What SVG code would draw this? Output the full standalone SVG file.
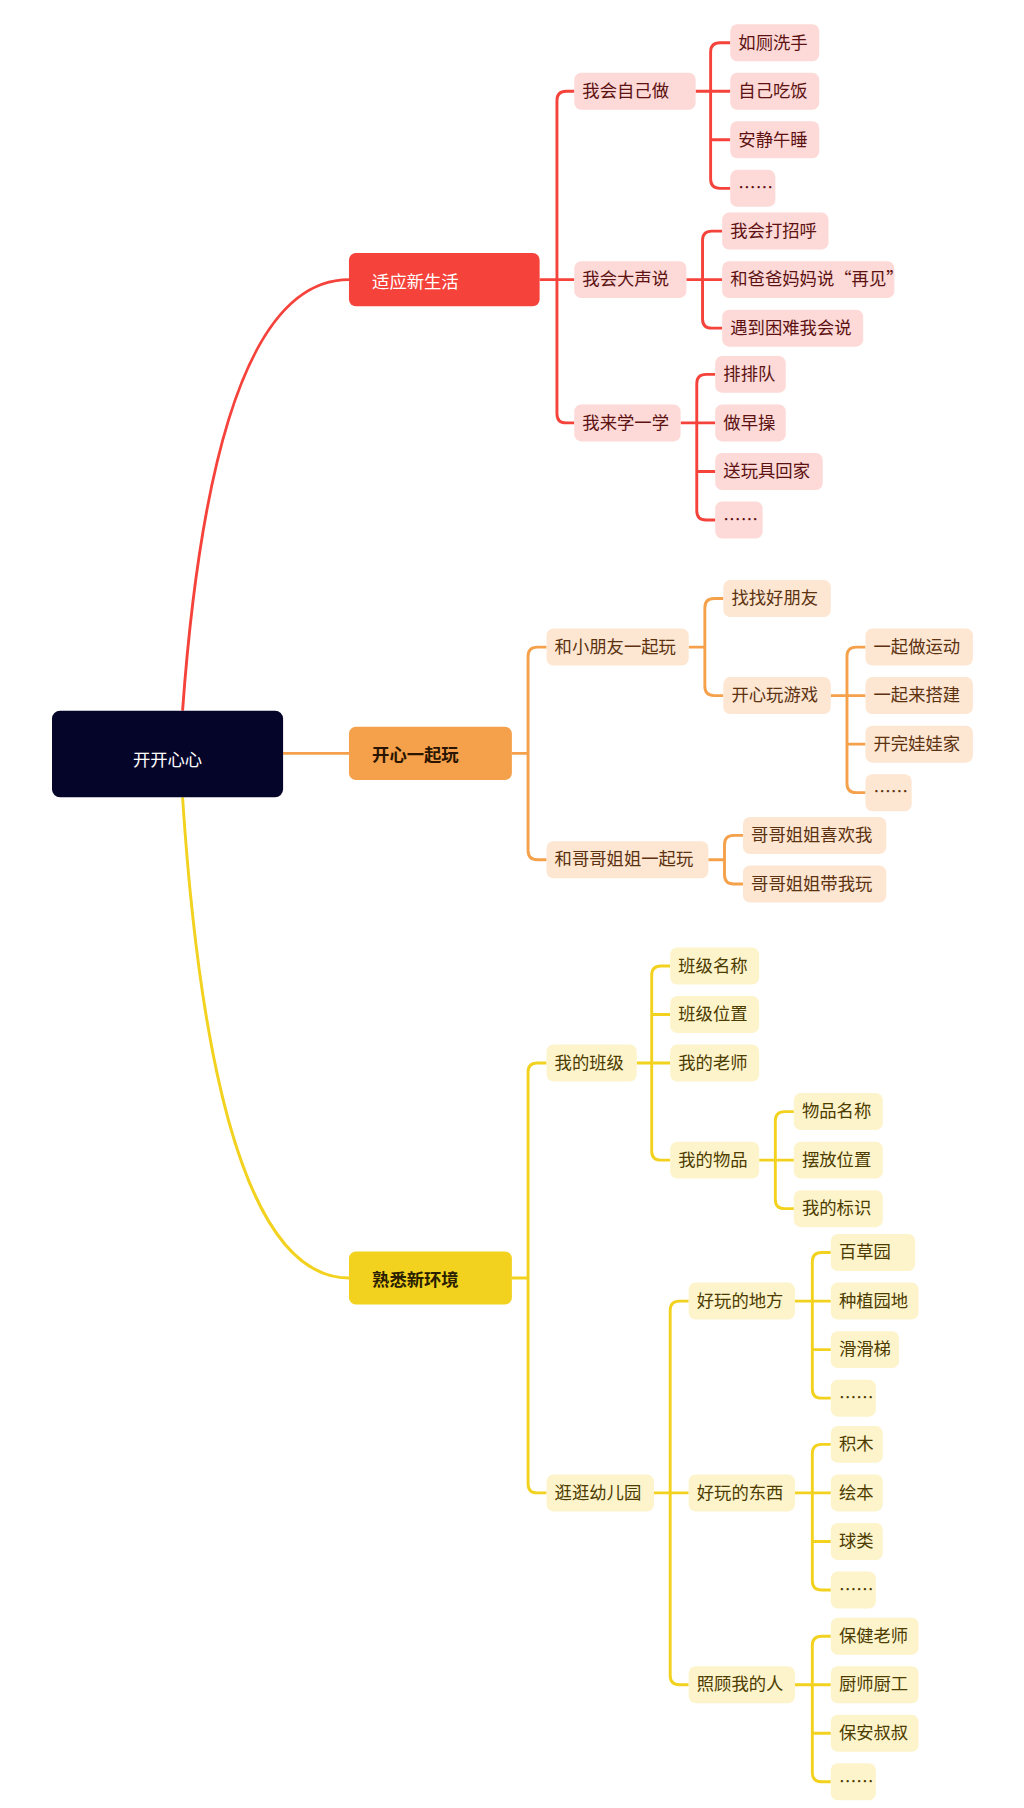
<svg xmlns="http://www.w3.org/2000/svg" width="1024" height="1808" viewBox="0 0 1024 1808">
<style>
text{font-family:"Noto Sans CJK SC","Noto Sans",sans-serif;font-size:15px}
.r rect{fill:#fdd9d7}.r text{fill:#5c1212}
.o rect{fill:#fde6d2}.o text{fill:#5c3210}
.y rect{fill:#fdf4cc}.y text{fill:#4d3c00}
.cr{stroke:#f5423a}.co{stroke:#f5a04a}.cy{stroke:#f2d21e}
#c path{fill:none;stroke-width:2.5}
</style>
<rect width="1024" height="1808" fill="#fff"/>
<g transform="scale(1.1555)">
<g id="c">
<path class="cr" d="M158,615 C175,380 220,242 302,242"/>
<path class="co" d="M245,652 H302"/>
<path class="cy" d="M158,690 C175,950 220,1106 302,1106"/>
<path class="cr" d="M467,242H497M482,242V87Q482,79 490,79H497M482,242V358Q482,366 490,366H497"/>
<path class="cr" d="M602,79H632M615,79V45Q615,37 623,37H632M615,79V155Q615,163 623,163H632M615,121H632"/>
<path class="cr" d="M594,242H625M608,242V208Q608,200 616,200H625M608,242V276Q608,284 616,284H625"/>
<path class="cr" d="M589,366H619M603,366V332Q603,324 611,324H619M603,366V442Q603,450 611,450H619M603,408H619"/>
<path class="co" d="M443,652H457V568Q457,560 465,560H473M457,652V736Q457,744 465,744H473"/>
<path class="co" d="M596,560H610V526Q610,518 618,518H626M610,560V594Q610,602 618,602H626"/>
<path class="co" d="M719,602H749M733,602V568Q733,560 741,560H749M733,602V678Q733,686 741,686H749M733,644H749"/>
<path class="co" d="M613,744H627V731Q627,723 635,723H643M627,744V757Q627,765 635,765H643"/>
<path class="cy" d="M443,1106H457V928Q457,920 465,920H473M457,1106V1284Q457,1292 465,1292H473"/>
<path class="cy" d="M551,920H580M564,920V844Q564,836 572,836H580M564,920V996Q564,1004 572,1004H580M564,878H580"/>
<path class="cy" d="M657,1004H687M671,1004V970Q671,962 679,962H687M671,1004V1038Q671,1046 679,1046H687"/>
<path class="cy" d="M566,1292H596M580,1292V1134Q580,1126 588,1126H596M580,1292V1450Q580,1458 588,1458H596"/>
<path class="cy" d="M688,1126H719M703,1126V1092Q703,1084 711,1084H719M703,1126V1202Q703,1210 711,1210H719M703,1168H719"/>
<path class="cy" d="M688,1292H719M703,1292V1258Q703,1250 711,1250H719M703,1292V1368Q703,1376 711,1376H719M703,1334H719"/>
<path class="cy" d="M688,1458H719M703,1458V1424Q703,1416 711,1416H719M703,1458V1534Q703,1542 711,1542H719M703,1500H719"/>
</g>
<g id="root"><rect x="45" y="615" width="200" height="75" rx="7" fill="#05052a"/><text x="145" y="663" font-size="32" fill="#fff" text-anchor="middle">开开心心</text></g>
<g id="l1a"><rect x="302" y="219" width="165" height="46" rx="6" fill="#f5423a"/><text x="322" y="249" font-size="18" fill="#fff">适应新生活</text></g>
<g id="l1b"><rect x="302" y="629" width="141" height="46" rx="6" fill="#f5a04a"/><text x="322" y="659" font-size="18" font-weight="bold" fill="#2a1500">开心一起玩</text></g>
<g id="l1c"><rect x="302" y="1083" width="141" height="46" rx="6" fill="#f2d21e"/><text x="322" y="1113" font-size="18" font-weight="bold" fill="#2a2000">熟悉新环境</text></g>
<g class="r">
<g id="r1"><rect x="497" y="63" width="105" height="32" rx="6"/><text x="504" y="84">我会自己做</text></g>
<g id="r2"><rect x="497" y="226" width="97" height="32" rx="6"/><text x="504" y="247">我会大声说</text></g>
<g id="r3"><rect x="497" y="350" width="92" height="32" rx="6"/><text x="504" y="371">我来学一学</text></g>
<g id="r11"><rect x="632" y="21" width="77" height="32" rx="6"/><text x="639" y="42">如厕洗手</text></g>
<g id="r12"><rect x="632" y="63" width="77" height="32" rx="6"/><text x="639" y="84">自己吃饭</text></g>
<g id="r13"><rect x="632" y="105" width="77" height="32" rx="6"/><text x="639" y="126">安静午睡</text></g>
<g id="r14"><rect x="632" y="147" width="39" height="32" rx="6"/><text x="639" y="168">……</text></g>
<g id="r21"><rect x="625" y="184" width="92" height="32" rx="6"/><text x="632" y="205">我会打招呼</text></g>
<g id="r22"><rect x="625" y="226" width="149" height="32" rx="6"/><text x="632" y="247">和爸爸妈妈说“再见”</text></g>
<g id="r23"><rect x="625" y="268" width="122" height="32" rx="6"/><text x="632" y="289">遇到困难我会说</text></g>
<g id="r31"><rect x="619" y="308" width="61" height="32" rx="6"/><text x="626" y="329">排排队</text></g>
<g id="r32"><rect x="619" y="350" width="61" height="32" rx="6"/><text x="626" y="371">做早操</text></g>
<g id="r33"><rect x="619" y="392" width="93" height="32" rx="6"/><text x="626" y="413">送玩具回家</text></g>
<g id="r34"><rect x="619" y="434" width="41" height="32" rx="6"/><text x="626" y="455">……</text></g>
</g>
<g class="o">
<g id="o1"><rect x="473" y="544" width="123" height="32" rx="6"/><text x="480" y="565">和小朋友一起玩</text></g>
<g id="o2"><rect x="473" y="728" width="140" height="32" rx="6"/><text x="480" y="749">和哥哥姐姐一起玩</text></g>
<g id="o11"><rect x="626" y="502" width="93" height="32" rx="6"/><text x="633" y="523">找找好朋友</text></g>
<g id="o12"><rect x="626" y="586" width="93" height="32" rx="6"/><text x="633" y="607">开心玩游戏</text></g>
<g id="o121"><rect x="749" y="544" width="93" height="32" rx="6"/><text x="756" y="565">一起做运动</text></g>
<g id="o122"><rect x="749" y="586" width="93" height="32" rx="6"/><text x="756" y="607">一起来搭建</text></g>
<g id="o123"><rect x="749" y="628" width="93" height="32" rx="6"/><text x="756" y="649">开完娃娃家</text></g>
<g id="o124"><rect x="749" y="670" width="40" height="32" rx="6"/><text x="756" y="691">……</text></g>
<g id="o21"><rect x="643" y="707" width="124" height="32" rx="6"/><text x="650" y="728">哥哥姐姐喜欢我</text></g>
<g id="o22"><rect x="643" y="749" width="124" height="32" rx="6"/><text x="650" y="770">哥哥姐姐带我玩</text></g>
</g>
<g class="y">
<g id="y1"><rect x="473" y="904" width="78" height="32" rx="6"/><text x="480" y="925">我的班级</text></g>
<g id="y2"><rect x="473" y="1276" width="93" height="32" rx="6"/><text x="480" y="1297">逛逛幼儿园</text></g>
<g id="y11"><rect x="580" y="820" width="77" height="32" rx="6"/><text x="587" y="841">班级名称</text></g>
<g id="y12"><rect x="580" y="862" width="77" height="32" rx="6"/><text x="587" y="883">班级位置</text></g>
<g id="y13"><rect x="580" y="904" width="77" height="32" rx="6"/><text x="587" y="925">我的老师</text></g>
<g id="y14"><rect x="580" y="988" width="77" height="32" rx="6"/><text x="587" y="1009">我的物品</text></g>
<g id="y141"><rect x="687" y="946" width="77" height="32" rx="6"/><text x="694" y="967">物品名称</text></g>
<g id="y142"><rect x="687" y="988" width="77" height="32" rx="6"/><text x="694" y="1009">摆放位置</text></g>
<g id="y143"><rect x="687" y="1030" width="77" height="32" rx="6"/><text x="694" y="1051">我的标识</text></g>
<g id="y21"><rect x="596" y="1110" width="92" height="32" rx="6"/><text x="603" y="1131">好玩的地方</text></g>
<g id="y22"><rect x="596" y="1276" width="92" height="32" rx="6"/><text x="603" y="1297">好玩的东西</text></g>
<g id="y23"><rect x="596" y="1442" width="92" height="32" rx="6"/><text x="603" y="1463">照顾我的人</text></g>
<g id="y211"><rect x="719" y="1068" width="73" height="32" rx="6"/><text x="726" y="1089">百草园</text></g>
<g id="y212"><rect x="719" y="1110" width="76" height="32" rx="6"/><text x="726" y="1131">种植园地</text></g>
<g id="y213"><rect x="719" y="1152" width="59" height="32" rx="6"/><text x="726" y="1173">滑滑梯</text></g>
<g id="y214"><rect x="719" y="1194" width="39" height="32" rx="6"/><text x="726" y="1215">……</text></g>
<g id="y221"><rect x="719" y="1234" width="45" height="32" rx="6"/><text x="726" y="1255">积木</text></g>
<g id="y222"><rect x="719" y="1276" width="45" height="32" rx="6"/><text x="726" y="1297">绘本</text></g>
<g id="y223"><rect x="719" y="1318" width="45" height="32" rx="6"/><text x="726" y="1339">球类</text></g>
<g id="y224"><rect x="719" y="1360" width="39" height="32" rx="6"/><text x="726" y="1381">……</text></g>
<g id="y231"><rect x="719" y="1400" width="76" height="32" rx="6"/><text x="726" y="1421">保健老师</text></g>
<g id="y232"><rect x="719" y="1442" width="76" height="32" rx="6"/><text x="726" y="1463">厨师厨工</text></g>
<g id="y233"><rect x="719" y="1484" width="76" height="32" rx="6"/><text x="726" y="1505">保安叔叔</text></g>
<g id="y234"><rect x="719" y="1526" width="39" height="32" rx="6"/><text x="726" y="1547">……</text></g>
</g>
</g>
</svg>
